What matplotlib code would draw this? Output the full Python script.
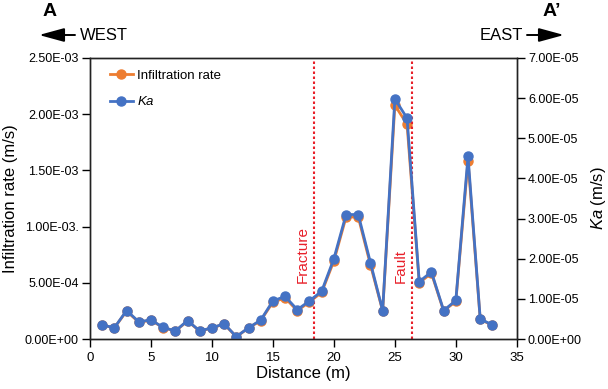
import matplotlib
matplotlib.use("Agg")
import matplotlib.pyplot as plt

plt.rcParams["font.family"] = ["Liberation Sans", "DejaVu Sans"]
plt.rcParams["mathtext.fontset"] = "custom"
plt.rcParams["mathtext.rm"] = "Liberation Sans"
plt.rcParams["mathtext.it"] = "Liberation Sans:italic"

# distance along the section (m)
distance = list(range(1, 34))

# infiltration rate (m/s), left axis
infiltration = [1.23e-4, 1.00e-4, 2.48e-4, 1.50e-4, 1.66e-4, 1.02e-4, 0.70e-4, 1.60e-4,
                0.70e-4, 0.98e-4, 1.33e-4, 0.20e-4, 0.98e-4, 1.64e-4, 3.28e-4, 3.65e-4,
                2.52e-4, 3.30e-4, 4.15e-4, 6.95e-4, 10.85e-4, 10.85e-4, 6.60e-4, 2.50e-4,
                20.8e-4, 19.1e-4, 5.00e-4, 5.85e-4, 2.50e-4, 3.35e-4, 15.85e-4, 1.75e-4,
                1.22e-4]

# apparent conductivity Ka (m/s), right axis
ka = [0.35e-5, 0.28e-5, 0.71e-5, 0.43e-5, 0.475e-5, 0.29e-5, 0.20e-5, 0.46e-5,
      0.20e-5, 0.28e-5, 0.38e-5, 0.06e-5, 0.28e-5, 0.47e-5, 0.95e-5, 1.06e-5,
      0.73e-5, 0.95e-5, 1.19e-5, 2.00e-5, 3.10e-5, 3.10e-5, 1.90e-5, 0.71e-5,
      5.98e-5, 5.50e-5, 1.43e-5, 1.67e-5, 0.71e-5, 0.96e-5, 4.55e-5, 0.50e-5,
      0.35e-5]

structures = [(18.4, "Fracture"), (26.4, "Fault")]

left_ticks = [0, 5e-4, 1e-3, 1.5e-3, 2e-3, 2.5e-3]
left_labels = ["0.00E+00", "5.00E-04", "1.00E-03.", "1.50E-03", "2.00E-03", "2.50E-03"]
right_ticks = [i * 1e-5 for i in range(8)]
right_labels = ["0.00E+00", "1.00E-05", "2.00E-05", "3.00E-05",
                "4.00E-05", "5.00E-05", "6.00E-05", "7.00E-05"]

ORANGE = "#ED7D31"
BLUE = "#4472C4"
RED = "#E8202A"

fig = plt.figure(figsize=(6.08, 3.89), dpi=100)
ax = fig.add_axes([0.148, 0.1285, 0.702, 0.7225])
ax2 = ax.twinx()

ax.plot(distance, infiltration, color=ORANGE, lw=2, marker="o", ms=6.5,
        label="Infiltration rate")
ax2.plot(distance, ka, color=BLUE, lw=2, marker="o", ms=6.5, label=r"$\it{Ka}$")

for xpos, name in structures:
    ax.axvline(xpos, color=RED, lw=1.5, ls=(0, (1.2, 1.2)))
    ax.text(xpos - 0.35, 5.0e-4, name, color=RED, rotation=90, fontsize=11,
            ha="right", va="bottom")

ax.set_xlim(0, 35)
ax.set_ylim(0, 2.5e-3)
ax2.set_ylim(0, 7e-5)
ax.set_xticks(range(0, 36, 5))
ax.set_yticks(left_ticks)
ax.set_yticklabels(left_labels)
ax2.set_yticks(right_ticks)
ax2.set_yticklabels(right_labels)

for a in (ax, ax2):
    a.tick_params(direction="out", length=6, width=1, labelsize=9, pad=2)
    for s in a.spines.values():
        s.set_linewidth(1)
        s.set_color("#222222")
ax.tick_params(axis="x", pad=3, labelsize=9.5)

ax.set_xlabel("Distance (m)", fontsize=12, labelpad=2)
ax.set_ylabel("Infiltration rate (m/s)", fontsize=12)
ax.yaxis.set_label_coords(-0.168, 0.5)
ax2.set_ylabel(r"$\it{Ka}$ (m/s)", fontsize=12)
ax2.yaxis.set_label_coords(1.17, 0.5)

h1, l1 = ax.get_legend_handles_labels()
h2, l2 = ax2.get_legend_handles_labels()
ax2.legend(h1 + h2, l1 + l2, loc="upper left", bbox_to_anchor=(0.018, 1.0),
           frameon=False, fontsize=9.5, handlelength=1.8, labelspacing=1.0,
           handletextpad=0.3)

# section labels and direction arrows
fig.text(43 / 608, 1 - 12 / 389, "A", fontsize=14, fontweight="bold",
         ha="left", va="center")
fig.text(543 / 608, 1 - 12 / 389, "A\u2019", fontsize=14, fontweight="bold",
         ha="left", va="center")
arrow = dict(arrowstyle="-|>,head_length=1.1,head_width=0.3", color="black",
             lw=1.4, mutation_scale=14, shrinkA=0, shrinkB=0)
fig.text(80 / 608, 1 - 35 / 389, "WEST", fontsize=12, ha="left", va="center")
ax.annotate("", xy=(39 / 608, 1 - 35 / 389), xytext=(75 / 608, 1 - 35 / 389),
            xycoords="figure fraction", textcoords="figure fraction",
            arrowprops=arrow)
fig.text(523 / 608, 1 - 35 / 389, "EAST", fontsize=12, ha="right", va="center")
ax.annotate("", xy=(564 / 608, 1 - 35 / 389), xytext=(527 / 608, 1 - 35 / 389),
            xycoords="figure fraction", textcoords="figure fraction",
            arrowprops=arrow)

fig.savefig("out.png", dpi=100)
